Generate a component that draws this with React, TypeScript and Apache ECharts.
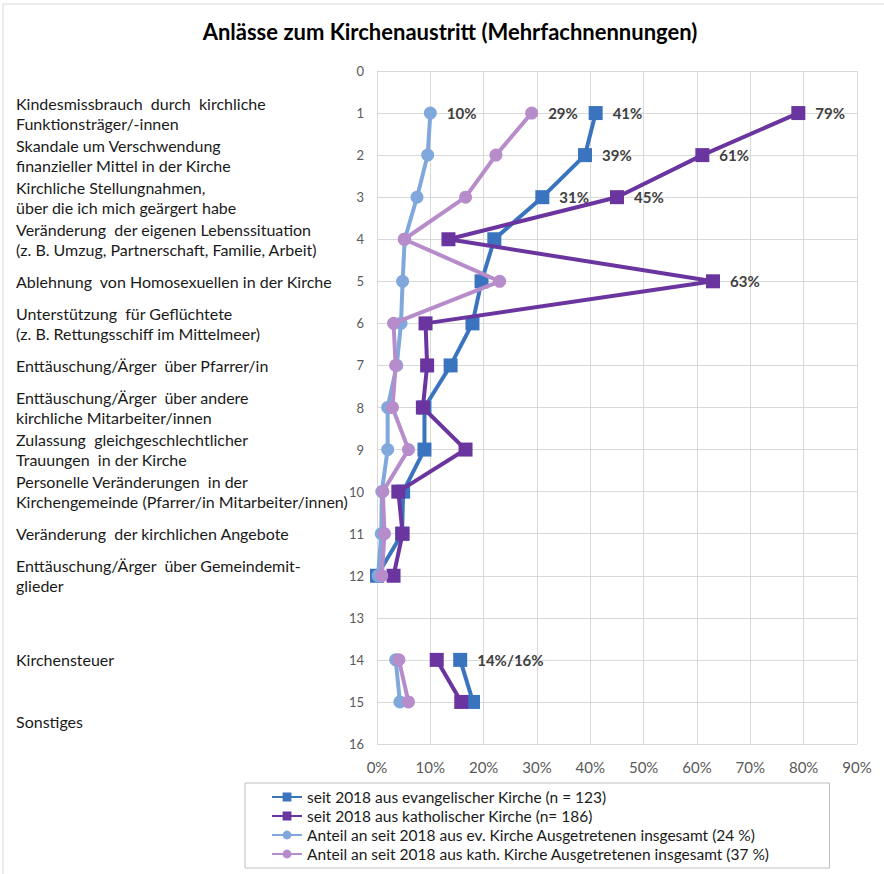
import React, { useEffect, useRef } from "react";
import * as echarts from "echarts";

const title = "Anlässe zum Kirchenaustritt (Mehrfachnennungen)";

const yTicks = ["0", "1", "2", "3", "4", "5", "6", "7", "8", "9", "10", "11", "12", "13", "14", "15", "16"];

const reasons = [
  "",
  "Kindesmissbrauch  durch  kirchliche\nFunktionsträger/-innen",
  "Skandale um Verschwendung\nfinanzieller Mittel in der Kirche",
  "Kirchliche Stellungnahmen,\nüber die ich mich geärgert habe",
  "Veränderung  der eigenen Lebenssituation\n(z. B. Umzug, Partnerschaft, Familie, Arbeit)",
  "Ablehnung  von Homosexuellen in der Kirche",
  "Unterstützung  für Geflüchtete\n(z. B. Rettungsschiff im Mittelmeer)",
  "Enttäuschung/Ärger  über Pfarrer/in",
  "Enttäuschung/Ärger  über andere\nkirchliche Mitarbeiter/innen",
  "Zulassung  gleichgeschlechtlicher\nTrauungen  in der Kirche",
  "Personelle Veränderungen  in der\nKirchengemeinde (Pfarrer/in Mitarbeiter/innen)",
  "Veränderung  der kirchlichen Angebote",
  "Enttäuschung/Ärger  über Gemeindemit-\nglieder",
  "",
  "Kirchensteuer",
  "\n\nSonstiges",
  "",
];

const seriesNames = [
  "seit 2018 aus evangelischer Kirche (n = 123)",
  "seit 2018 aus katholischer Kirche (n= 186)",
  "Anteil an seit 2018 aus ev. Kirche Ausgetretenen insgesamt (24 %)",
  "Anteil an seit 2018 aus kath. Kirche Ausgetretenen insgesamt (37 %)",
];

// values in percent, index = position on the vertical axis (null = no value)
const evValues = [null, 41, 39, 31, 22, 19.6, 17.9, 13.8, 8.9, 8.9, 4.9, 4.7, 0, null, 15.6, 18, null];
const kathValues = [null, 79, 61, 45, 13.4, 63, 9.1, 9.4, 8.6, 16.6, 4, 4.8, 3.1, null, 11.2, 15.8, null];
const evAllValues = [null, 10, 9.5, 7.5, 5.2, 4.8, 4.5, 3.7, 2, 2, 0.9, 0.8, 0.2, null, 3.5, 4.3, null];
const kathAllValues = [null, 29, 22.3, 16.6, 5.1, 23, 3.1, 3.5, 2.9, 5.9, 1.1, 1.4, 0.9, null, 4.1, 5.9, null];

const evLabels = ["", "41%", "39%", "31%", "", "", "", "", "", "", "", "", "", "", "14%/16%", "", ""];
const kathLabels = ["", "79%", "61%", "45%", "", "63%", "", "", "", "", "", "", "", "", "", "", ""];
const evAllLabels = ["", "10%", "", "", "", "", "", "", "", "", "", "", "", "", "", "", ""];
const kathAllLabels = ["", "29%", "", "", "", "", "", "", "", "", "", "", "", "", "", "", ""];

const FONT = "Lato";
const colors = ["#3a74bf", "#6b35a0", "#81a8dc", "#b68ccb"];

function buildData(values: (number | null)[], labels: string[]) {
  return values.map((v, i) => {
    const val = v === null ? "-" : v;
    if (labels[i]) {
      return {
        value: val,
        label: {
          show: true,
          position: "right",
          distance: 10,
          formatter: labels[i],
          fontFamily: FONT,
          fontWeight: "bold",
          fontSize: 15,
          color: "#404040",
        },
      };
    }
    return val;
  });
}

export default function App() {
  const ref = useRef<HTMLDivElement>(null);
  useEffect(() => {
    document.body.style.margin = "0";
    const chart = echarts.init(ref.current!, null, { renderer: "svg" });
    const lineSeries = (idx: number, values: (number | null)[], labels: string[], symbol: string, size: number) => ({
      name: seriesNames[idx],
      type: "line",
      yAxisIndex: 0,
      data: buildData(values, labels),
      symbol,
      symbolSize: size,
      connectNulls: false,
      lineStyle: { color: colors[idx], width: 4 },
      itemStyle: { color: colors[idx] },
      z: 2 + idx,
    });
    chart.setOption({
      animation: false,
      backgroundColor: "#ffffff",
      title: {
        text: title,
        left: 445,
        textAlign: "center",
        top: 15,
        textStyle: { fontFamily: FONT, fontSize: 22, fontWeight: "bold", color: "#000000" },
      },
      graphic: [
        {
          type: "rect",
          shape: { x: 3, y: 4, width: 900, height: 900 },
          style: { fill: "none", stroke: "#d9d9d9", lineWidth: 1 },
          silent: true,
        },
      ],
      grid: { left: 377, right: 27, top: 71, bottom: 130, containLabel: false },
      xAxis: {
        type: "value",
        min: 0,
        max: 90,
        interval: 10,
        axisLine: { show: false },
        axisTick: { show: false },
        splitLine: { show: true, lineStyle: { color: "#d9d9d9", width: 1 } },
        axisLabel: {
          formatter: (v: number) => v + "%",
          fontFamily: FONT,
          fontSize: 15,
          color: "#595959",
          margin: 15,
        },
      },
      yAxis: [
        {
          type: "category",
          data: yTicks,
          inverse: true,
          boundaryGap: false,
          axisLine: { show: true, lineStyle: { color: "#d9d9d9" } },
          axisTick: { show: false },
          splitLine: { show: true, interval: 0, lineStyle: { color: "#d9d9d9", width: 1 } },
          axisLabel: { interval: 0, fontFamily: FONT, fontSize: 13, color: "#595959", margin: 13 },
        },
        {
          type: "category",
          data: reasons,
          inverse: true,
          boundaryGap: false,
          position: "left",
          offset: 361,
          axisLine: { show: false },
          axisTick: { show: false },
          splitLine: { show: false },
          axisLabel: {
            interval: 0,
            align: "left",
            margin: 0,
            padding: [5, 0, 0, 0],
            fontFamily: FONT,
            fontSize: 16,
            lineHeight: 20,
            color: "#1a1a1a",
          },
        },
      ],
      legend: {
        orient: "vertical",
        left: 245,
        top: 783,
        padding: [5, 60, 5, 26],
        itemGap: 1,
        itemWidth: 30,
        itemHeight: 11,
        borderColor: "#bfbfbf",
        borderWidth: 1,
        textStyle: { fontFamily: FONT, fontSize: 15.5, color: "#1a1a1a", lineHeight: 18 },
        data: seriesNames,
      },
      series: [
        lineSeries(0, evValues, evLabels, "rect", 14),
        lineSeries(1, kathValues, kathLabels, "rect", 14),
        lineSeries(2, evAllValues, evAllLabels, "circle", 13),
        lineSeries(3, kathAllValues, kathAllLabels, "circle", 13),
      ],
    });
    return () => chart.dispose();
  }, []);
  return <div ref={ref} style={{ position: "fixed", left: 0, top: 0, width: 884, height: 874 }} />;
}
